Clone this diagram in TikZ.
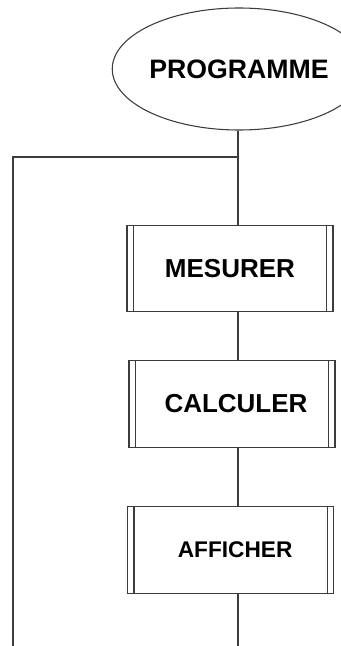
\documentclass[tikz,border=0pt]{standalone}
\usepackage{fontspec}
\setmainfont{Liberation Sans}
\usetikzlibrary{shapes.geometric}
\definecolor{ink}{RGB}{60,60,60}
\tikzset{
  wire/.style={draw=ink, line width=0.8pt},
  startnode/.style={ellipse, draw=ink, line width=0.8pt, minimum width=148.5pt,
    minimum height=91.5pt, inner sep=0pt, font=\bfseries\fontsize{20}{24}\selectfont},
  procbox/.style={rectangle, draw=ink, line width=0.8pt, minimum width=154.5pt,
    minimum height=65pt, inner sep=0pt, font=\bfseries\fontsize{19.5}{23}\selectfont},
}
% draws the two inner bars of a predefined-process box
\newcommand{\sidebars}[1]{%
  \draw[wire] ([xshift=5.25pt]#1.north west) -- ([xshift=5.25pt]#1.south west);
  \draw[wire] ([xshift=-5.25pt]#1.north east) -- ([xshift=-5.25pt]#1.south east);
}
\begin{document}
\begin{tikzpicture}[x=0.75pt, y=-0.75pt]
  \useasboundingbox (0,0) rectangle (340,646);
  \node[startnode] (prog) at (239,69) {PROGRAMME};
  \node[procbox] (mes) at (230,268.5) {MESURER};
  \node[procbox] (cal) at (232,404) {\hspace{6pt}CALCULER};
  \node[procbox, font=\bfseries\fontsize{17}{20}\selectfont] (aff) at (230.5,550) {\hspace{7pt}AFFICHER};
  \sidebars{mes}
  \sidebars{cal}
  \sidebars{aff}
  \coordinate (axis) at (238,0);
  \coordinate (J) at (238,157);
  \coordinate (L) at (13,157);
  \coordinate (Lend) at (13,646);
  \coordinate (Bend) at (238,646);
  \draw[wire] (axis |- prog.south) -- (J) -- (axis |- mes.north);
  \draw[wire] (J) -- (L) -- (Lend);
  \draw[wire] (axis |- mes.south) -- (axis |- cal.north);
  \draw[wire] (axis |- cal.south) -- (axis |- aff.north);
  \draw[wire] (axis |- aff.south) -- (Bend);
\end{tikzpicture}
\end{document}
